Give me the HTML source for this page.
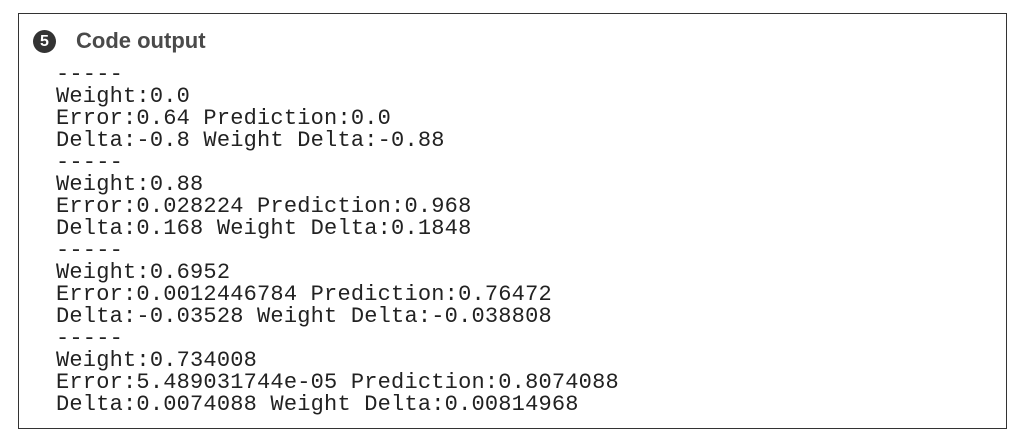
<!DOCTYPE html>
<html><head><style>
body{margin:0;width:1022px;height:447px;background:#fff;position:relative;overflow:hidden}
#box{position:absolute;left:18px;top:13px;width:989px;height:416px;border:1px solid #333;box-sizing:border-box}
#icon{position:absolute;left:33px;top:30px;width:23px;height:23px;border-radius:50%;background:#333;color:#fff;font:bold 16px "Liberation Sans",sans-serif;text-align:center;line-height:23px}
#title{position:absolute;left:76px;top:28px;font:bold 22px "Liberation Sans",sans-serif;color:#4a4a4a}
#out{position:absolute;left:56px;top:64px;margin:0;font:22px/22px "Liberation Mono",monospace;color:#222;white-space:pre;letter-spacing:0.2px}
</style></head><body>
<div id="box"></div>
<div id="icon">5</div>
<div id="title">Code output</div>
<pre id="out">-----
Weight:0.0
Error:0.64 Prediction:0.0
Delta:-0.8 Weight Delta:-0.88
-----
Weight:0.88
Error:0.028224 Prediction:0.968
Delta:0.168 Weight Delta:0.1848
-----
Weight:0.6952
Error:0.0012446784 Prediction:0.76472
Delta:-0.03528 Weight Delta:-0.038808
-----
Weight:0.734008
Error:5.489031744e-05 Prediction:0.8074088
Delta:0.0074088 Weight Delta:0.00814968</pre>
</body></html>
